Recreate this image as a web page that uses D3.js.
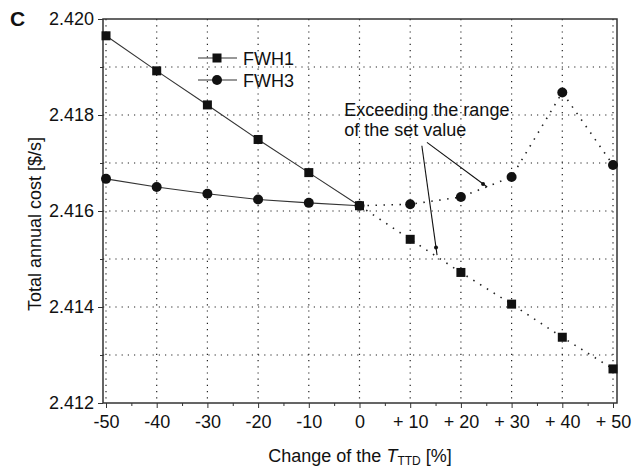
<!DOCTYPE html>
<html>
<head>
<meta charset="utf-8">
<script src="https://cdn.jsdelivr.net/npm/d3@7"></script>
<style>
html,body{margin:0;padding:0;background:#fff;}
svg text{font-family:"Liberation Sans",Arial,Helvetica,sans-serif;fill:#111;}
</style>
</head>
<body>
<svg id="chart" width="633" height="471"></svg>
<script>
// ---- data ----
const xValues = [-50, -40, -30, -20, -10, 0, 10, 20, 30, 40, 50];
const xTickLabels = ["-50", "-40", "-30", "-20", "-10", "0", "+ 10", "+ 20", "+ 30", "+ 40", "+ 50"];
const fwh1 = [2.41965, 2.41892, 2.41821, 2.41749, 2.41680, 2.41611, 2.41541, 2.41472, 2.41406, 2.41337, 2.41271];
const fwh3 = [2.41667, 2.41650, 2.41636, 2.41624, 2.41617, 2.41611, 2.41614, 2.41629, 2.41671, 2.41847, 2.41696];
const yTicks = [2.412, 2.414, 2.416, 2.418, 2.420];
const yMinorTicks = [2.413, 2.415, 2.417, 2.419];
const seriesNames = ["FWH1", "FWH3"];
const annotationLines = ["Exceeding the range", "of the set value"];
// arrows in data coordinates [x1,y1,x2,y2]
const arrows = [[12.3, 2.41736, 15.3, 2.41508], [13.3, 2.41743, 25.2, 2.41650]];

// ---- layout ----
const svg = d3.select("#chart");
const frame = {left: 103, right: 617, top: 19, bottom: 403};
const x = d3.scaleLinear().domain([-50, 50]).range([106, 613]);
const y = d3.scaleLinear().domain([2.412, 2.420]).range([frame.bottom, frame.top]);

// gridlines
const grid = svg.append("g");
grid.selectAll("line.h").data(yTicks.concat(yMinorTicks).filter(v => v > 2.412 && v < 2.420))
  .enter().append("line")
  .attr("x1", frame.left).attr("x2", frame.right)
  .attr("y1", d => y(d)).attr("y2", d => y(d))
  .attr("stroke", "#222").attr("stroke-width", 1.2).attr("stroke-dasharray", "1.2,5");
grid.selectAll("line.v").data(xValues)
  .enter().append("line")
  .attr("x1", d => x(d)).attr("x2", d => x(d))
  .attr("y1", frame.top).attr("y2", frame.bottom)
  .attr("stroke", "#222").attr("stroke-width", 1.2).attr("stroke-dasharray", "1.2,5");

// frame
svg.append("rect").attr("x", frame.left).attr("y", frame.top)
  .attr("width", frame.right - frame.left).attr("height", frame.bottom - frame.top)
  .attr("fill", "none").attr("stroke", "#333").attr("stroke-width", 1.5);

// y axis
const yAxis = d3.axisLeft(y).tickValues(yTicks).tickFormat(d3.format(".3f")).tickSize(5).tickPadding(4);
const gy = svg.append("g").attr("transform", `translate(${frame.left},0)`).call(yAxis);
gy.select(".domain").remove();
gy.selectAll("text").style("font-size", "18px");
gy.selectAll("line").attr("stroke", "#333");
const yAxisMinor = d3.axisLeft(y).tickValues(yMinorTicks).tickFormat("").tickSize(3);
const gym = svg.append("g").attr("transform", `translate(${frame.left},0)`).call(yAxisMinor);
gym.select(".domain").remove();
gym.selectAll("line").attr("stroke", "#333");

// x axis
const xAxis = d3.axisBottom(x).tickValues(xValues).tickFormat((d, i) => xTickLabels[i]).tickSize(5).tickPadding(7);
const gx = svg.append("g").attr("transform", `translate(0,${frame.bottom})`).call(xAxis);
gx.select(".domain").remove();
gx.selectAll("text").style("font-size", "18px");
gx.selectAll("line").attr("stroke", "#333");
const xMinor = xValues.slice(0, -1).map((v, i) => (v + xValues[i + 1]) / 2);
const xAxisMinor = d3.axisBottom(x).tickValues(xMinor).tickFormat("").tickSize(3);
const gxm = svg.append("g").attr("transform", `translate(0,${frame.bottom})`).call(xAxisMinor);
gxm.select(".domain").remove();
gxm.selectAll("line").attr("stroke", "#333");

// axis titles
svg.append("text").attr("transform", `translate(41,224) rotate(-90)`)
  .attr("text-anchor", "middle").style("font-size", "18px").text("Total annual cost [$/s]");
const xt = svg.append("text").attr("x", 360).attr("y", 462).attr("text-anchor", "middle").style("font-size", "18px");
xt.append("tspan").text("Change of the ");
xt.append("tspan").style("font-style", "italic").text("T");
xt.append("tspan").attr("dy", 3).style("font-size", "12px").text("TTD");
xt.append("tspan").attr("dy", -3).text(" [%]");

// panel letter
svg.append("text").attr("x", 10).attr("y", 26).style("font-size", "21px").style("font-weight", "bold").text("C");

// series lines
const series = [fwh1, fwh3];
const zeroIdx = xValues.indexOf(0);
const line = d3.line().x(d => x(d[0])).y(d => y(d[1]));
series.forEach(vals => {
  const pts = xValues.map((v, i) => [v, vals[i]]);
  svg.append("path").attr("d", line(pts.slice(0, zeroIdx + 1)))
    .attr("fill", "none").attr("stroke", "#333").attr("stroke-width", 1.1);
  svg.append("path").attr("d", line(pts.slice(zeroIdx)))
    .attr("fill", "none").attr("stroke", "#222").attr("stroke-width", 1.6)
    .attr("stroke-dasharray", "1.5,6.5");
});

// markers
svg.append("g").selectAll("rect").data(fwh1).enter().append("rect")
  .attr("x", (d, i) => x(xValues[i]) - 4.5).attr("y", d => y(d) - 4.5)
  .attr("width", 9).attr("height", 9).attr("fill", "#111");
svg.append("g").selectAll("circle").data(fwh3).enter().append("circle")
  .attr("cx", (d, i) => x(xValues[i])).attr("cy", d => y(d)).attr("r", 5).attr("fill", "#111");

// legend
const lg = svg.append("g");
seriesNames.forEach((name, i) => {
  const ly = 58 + i * 22;
  lg.append("line").attr("x1", 198).attr("x2", 237).attr("y1", ly).attr("y2", ly)
    .attr("stroke", "#333").attr("stroke-width", 1.1);
  if (i === 0) lg.append("rect").attr("x", 217 - 4.5).attr("y", ly - 4.5).attr("width", 9).attr("height", 9).attr("fill", "#111");
  else lg.append("circle").attr("cx", 217).attr("cy", ly).attr("r", 5).attr("fill", "#111");
  lg.append("text").attr("x", 243).attr("y", ly + 6.5).style("font-size", "18px").text(name);
});

// annotation
const ann = svg.append("text").attr("x", x(-3.0)).attr("y", 116).style("font-size", "18px");
annotationLines.forEach((t, i) => ann.append("tspan").attr("x", x(-3.0)).attr("dy", i ? 20 : 0).text(t));
arrows.forEach(a => {
  svg.append("line").attr("x1", x(a[0])).attr("y1", y(a[1])).attr("x2", x(a[2])).attr("y2", y(a[3]))
    .attr("stroke", "#111").attr("stroke-width", 1.1);
  const t = 0.93;
  svg.append("circle").attr("cx", x(a[0] + (a[2] - a[0]) * t)).attr("cy", y(a[1] + (a[3] - a[1]) * t))
    .attr("r", 2).attr("fill", "#111");
});
</script>
</body>
</html>
